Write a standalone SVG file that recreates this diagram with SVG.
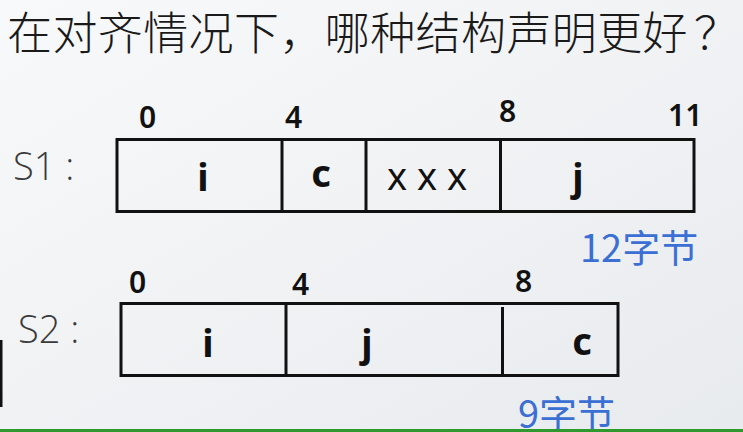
<svg xmlns="http://www.w3.org/2000/svg" width="743" height="432" viewBox="0 0 743 432">
<defs>
<linearGradient id="bg" x1="0" y1="0" x2="1" y2="1">
<stop offset="0" stop-color="#f8f9fa"/>
<stop offset="1" stop-color="#e8ebee"/>
</linearGradient>
<style>
.title{font-family:"Noto Sans CJK SC","Noto Sans",sans-serif;font-size:45px;fill:#1a1a1a;font-weight:300;letter-spacing:0.4px}
.num{font-family:"Noto Sans","Open Sans",sans-serif;font-size:30px;fill:#111;font-weight:600}
.lab{font-family:"Open Sans","Noto Sans",sans-serif;font-size:38px;fill:#3a3a3a;font-weight:300}
.cell{font-family:"Noto Sans","Open Sans",sans-serif;font-size:38px;fill:#111;font-weight:bold;text-anchor:middle}
.pad{font-family:"Noto Sans","Open Sans",sans-serif;font-size:38px;fill:#111;font-weight:normal;text-anchor:middle}
.size{font-family:"Noto Sans CJK SC","Noto Sans",sans-serif;font-size:38px;fill:#3b6fd4}
.box{fill:none;stroke:#111;stroke-width:3}
.div{stroke:#111;stroke-width:3}
</style>
</defs>
<rect x="0" y="0" width="743" height="432" fill="url(#bg)"/>
<text class="title" x="7" y="50">在对齐情况下，哪种结构声明更好<tspan dx="6">？</tspan></text>

<g id="s1">
<text class="lab" x="13" y="180">S1 :</text>
<rect class="box" x="117" y="139.5" width="577" height="72"/>
<line class="div" x1="282" y1="139.5" x2="282" y2="211.5"/>
<line class="div" x1="366" y1="139.5" x2="366" y2="211.5"/>
<line class="div" x1="500.5" y1="139.5" x2="500.5" y2="211.5"/>
<text class="num" x="139" y="128">0</text>
<text class="num" x="285" y="128">4</text>
<text class="num" x="499" y="122">8</text>
<text class="num" x="668" y="126">11</text>
<text class="cell" x="203" y="191">i</text>
<text class="cell" x="321" y="187">c</text>
<text class="pad" x="427" y="190">x x x</text>
<text class="cell" x="578" y="191">j</text>
<text class="size" x="580" y="262">12字节</text>
</g>

<g id="s2">
<text class="lab" x="18" y="343">S2 :</text>
<rect class="box" x="121" y="303.5" width="497" height="72"/>
<line class="div" x1="286" y1="303.5" x2="286" y2="375.5"/>
<line class="div" x1="502.5" y1="307" x2="502.5" y2="375.5"/>
<text class="num" x="129" y="293">0</text>
<text class="num" x="292" y="295">4</text>
<text class="num" x="515" y="292">8</text>
<text class="cell" x="208" y="357">i</text>
<text class="cell" x="367" y="357">j</text>
<text class="cell" x="582" y="355">c</text>
<text class="size" x="518" y="428">9字节</text>
</g>

<rect x="0" y="340" width="2.5" height="67" fill="#111"/>
<rect x="0" y="429" width="743" height="3" fill="#2e9a2e"/>
</svg>
